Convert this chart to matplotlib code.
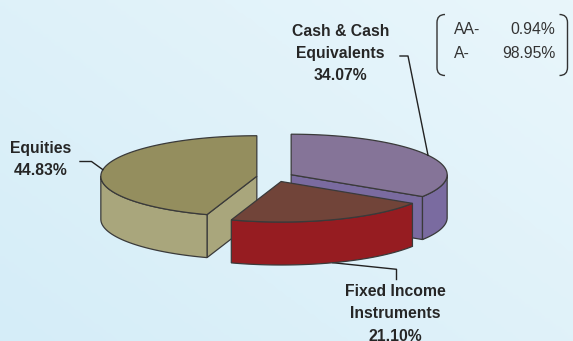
import numpy as np
import matplotlib.pyplot as plt
from matplotlib.patches import Polygon, PathPatch
from matplotlib.path import Path
from matplotlib.colors import LinearSegmentedColormap

# slices, clockwise from 12 o'clock
names = ['Cash & Cash\nEquivalents', 'Fixed Income\nInstruments', 'Equities']
shares = [34.07, 21.10, 44.83]
top_colors = ['#857498', '#714439', '#948E5E']
side_colors = ['#7A6BA0', '#961C21', '#A9A67C']

rating_names = ['AA-', 'A-']
rating_values = [0.94, 98.95]

# pie layout in pixels
W, H = 573, 341
cx, cy = 275, 177
rx, ry = 156, 40.5
depth = 43
explode = 0.118
edge = '#3A3A3A'
txt = '#262626'

fig = plt.figure(figsize=(W / 100, H / 100), dpi=100)
ax = fig.add_axes([0, 0, 1, 1])
ax.set_xlim(0, W)
ax.set_ylim(H, 0)
ax.axis('off')

# background gradient
gx, gy = np.meshgrid(np.linspace(0, 1, 200), np.linspace(0, 1, 120))
grad = 0.55 * gx + 0.45 * (1 - gy)
cmap = LinearSegmentedColormap.from_list('bg', ['#D5EDF8', '#E9F6FB'])
ax.imshow(grad, extent=[0, W, H, 0], cmap=cmap, aspect='auto', zorder=0, origin='upper')


def rim(x0, y0, a, dz=0):
    return x0 + rx * np.cos(np.radians(a)), y0 - ry * np.sin(np.radians(a)) + dz


bounds = []
acc = 0
for s in shares:
    a1 = 90 - 3.6 * acc
    acc += s
    a0 = 90 - 3.6 * acc
    bounds.append((a0, a1))

centers = []
for i, (a0, a1) in enumerate(bounds):
    mid = (a0 + a1) / 2
    centers.append((cx + explode * rx * np.cos(np.radians(mid)),
                    cy - explode * ry * np.sin(np.radians(mid))))

order = [0, 2, 1]
for k, i in enumerate(order):
    a0, a1 = bounds[i]
    x0, y0 = centers[i]
    z = 2 + k * 3
    # radial cut faces facing the viewer
    for a, vis in ((a0, np.cos(np.radians(a0)) > 1e-6), (a1, np.cos(np.radians(a1)) < -1e-6)):
        if vis:
            px, py = rim(x0, y0, a)
            quad = [(x0, y0), (px, py), (px, py + depth), (x0, y0 + depth)]
            ax.add_patch(Polygon(quad, closed=True, fc=side_colors[i], ec=edge, lw=0.9, zorder=z))
    # outer curved side
    lo, hi = max(a0, -180), min(a1, 0)
    if hi > lo:
        t = np.linspace(lo, hi, 80)
        xs, ys = rim(x0, y0, t)
        pts = list(zip(xs, ys)) + list(zip(xs[::-1], ys[::-1] + depth))
        ax.add_patch(Polygon(pts, closed=True, fc=side_colors[i], ec=edge, lw=0.9, zorder=z + 1))
    # top
    t = np.linspace(a0, a1, 120)
    xs, ys = rim(x0, y0, t)
    pts = [(x0, y0)] + list(zip(xs, ys))
    ax.add_patch(Polygon(pts, closed=True, fc=top_colors[i], ec=edge, lw=0.9, zorder=z + 2))

# labels and leader lines
lab_font = dict(family='Liberation Sans', fontsize=11.3, fontweight='bold', color=txt,
                ha='center', va='center', linespacing=1.62, zorder=20)

# cash
mid = sum(bounds[0]) / 2
ex, ey = rim(*centers[0], mid)
ax.plot([400, 408, ex], [56, 56, ey], color='#222222', lw=1, zorder=15)
ax.text(340.6, 53.5, f'{names[0]}\n{shares[0]:.2f}%', **lab_font)

# equities
mid = sum(bounds[2]) / 2
ex, ey = rim(*centers[2], mid)
ax.plot([80, 91.5, ex], [161.5, 161.5, ey], color='#222222', lw=1, zorder=15)
ax.text(40.3, 159.5, f'{names[2]}\n{shares[2]:.2f}%', **lab_font)

# fixed income
mid = sum(bounds[1]) / 2
ex, ey = rim(*centers[1], mid, depth)
ax.plot([ex, 396.5, 396.5], [ey, 269.3, 279.5], color='#222222', lw=1, zorder=1)
ax.text(395.3, 314.0, f'{names[1]}\n{shares[1]:.2f}%', **lab_font)

# rating box
bx0, bx1, by0, by1, r = 437, 567.5, 14.5, 75.5, 8
left = Path([(bx0 + r, by0), (bx0, by0), (bx0, by0 + r), (bx0, by1 - r), (bx0, by1), (bx0 + r, by1)],
            [Path.MOVETO, Path.CURVE3, Path.CURVE3, Path.LINETO, Path.CURVE3, Path.CURVE3])
right = Path([(bx1 - r, by0), (bx1, by0), (bx1, by0 + r), (bx1, by1 - r), (bx1, by1), (bx1 - r, by1)],
             [Path.MOVETO, Path.CURVE3, Path.CURVE3, Path.LINETO, Path.CURVE3, Path.CURVE3])
for p in (left, right):
    ax.add_patch(PathPatch(p, fc='none', ec='#333333', lw=1, zorder=15))

for j, (n, v) in enumerate(zip(rating_names, rating_values)):
    y = 29.5 + j * 24
    ax.text(454, y, n, family='Liberation Sans', fontsize=11.3, color='#333333', ha='left', va='center')
    ax.text(555.5, y, f'{v:.2f}%', family='Liberation Sans', fontsize=11.3, color='#333333',
            ha='right', va='center')

fig.savefig('out.png', dpi=100)
